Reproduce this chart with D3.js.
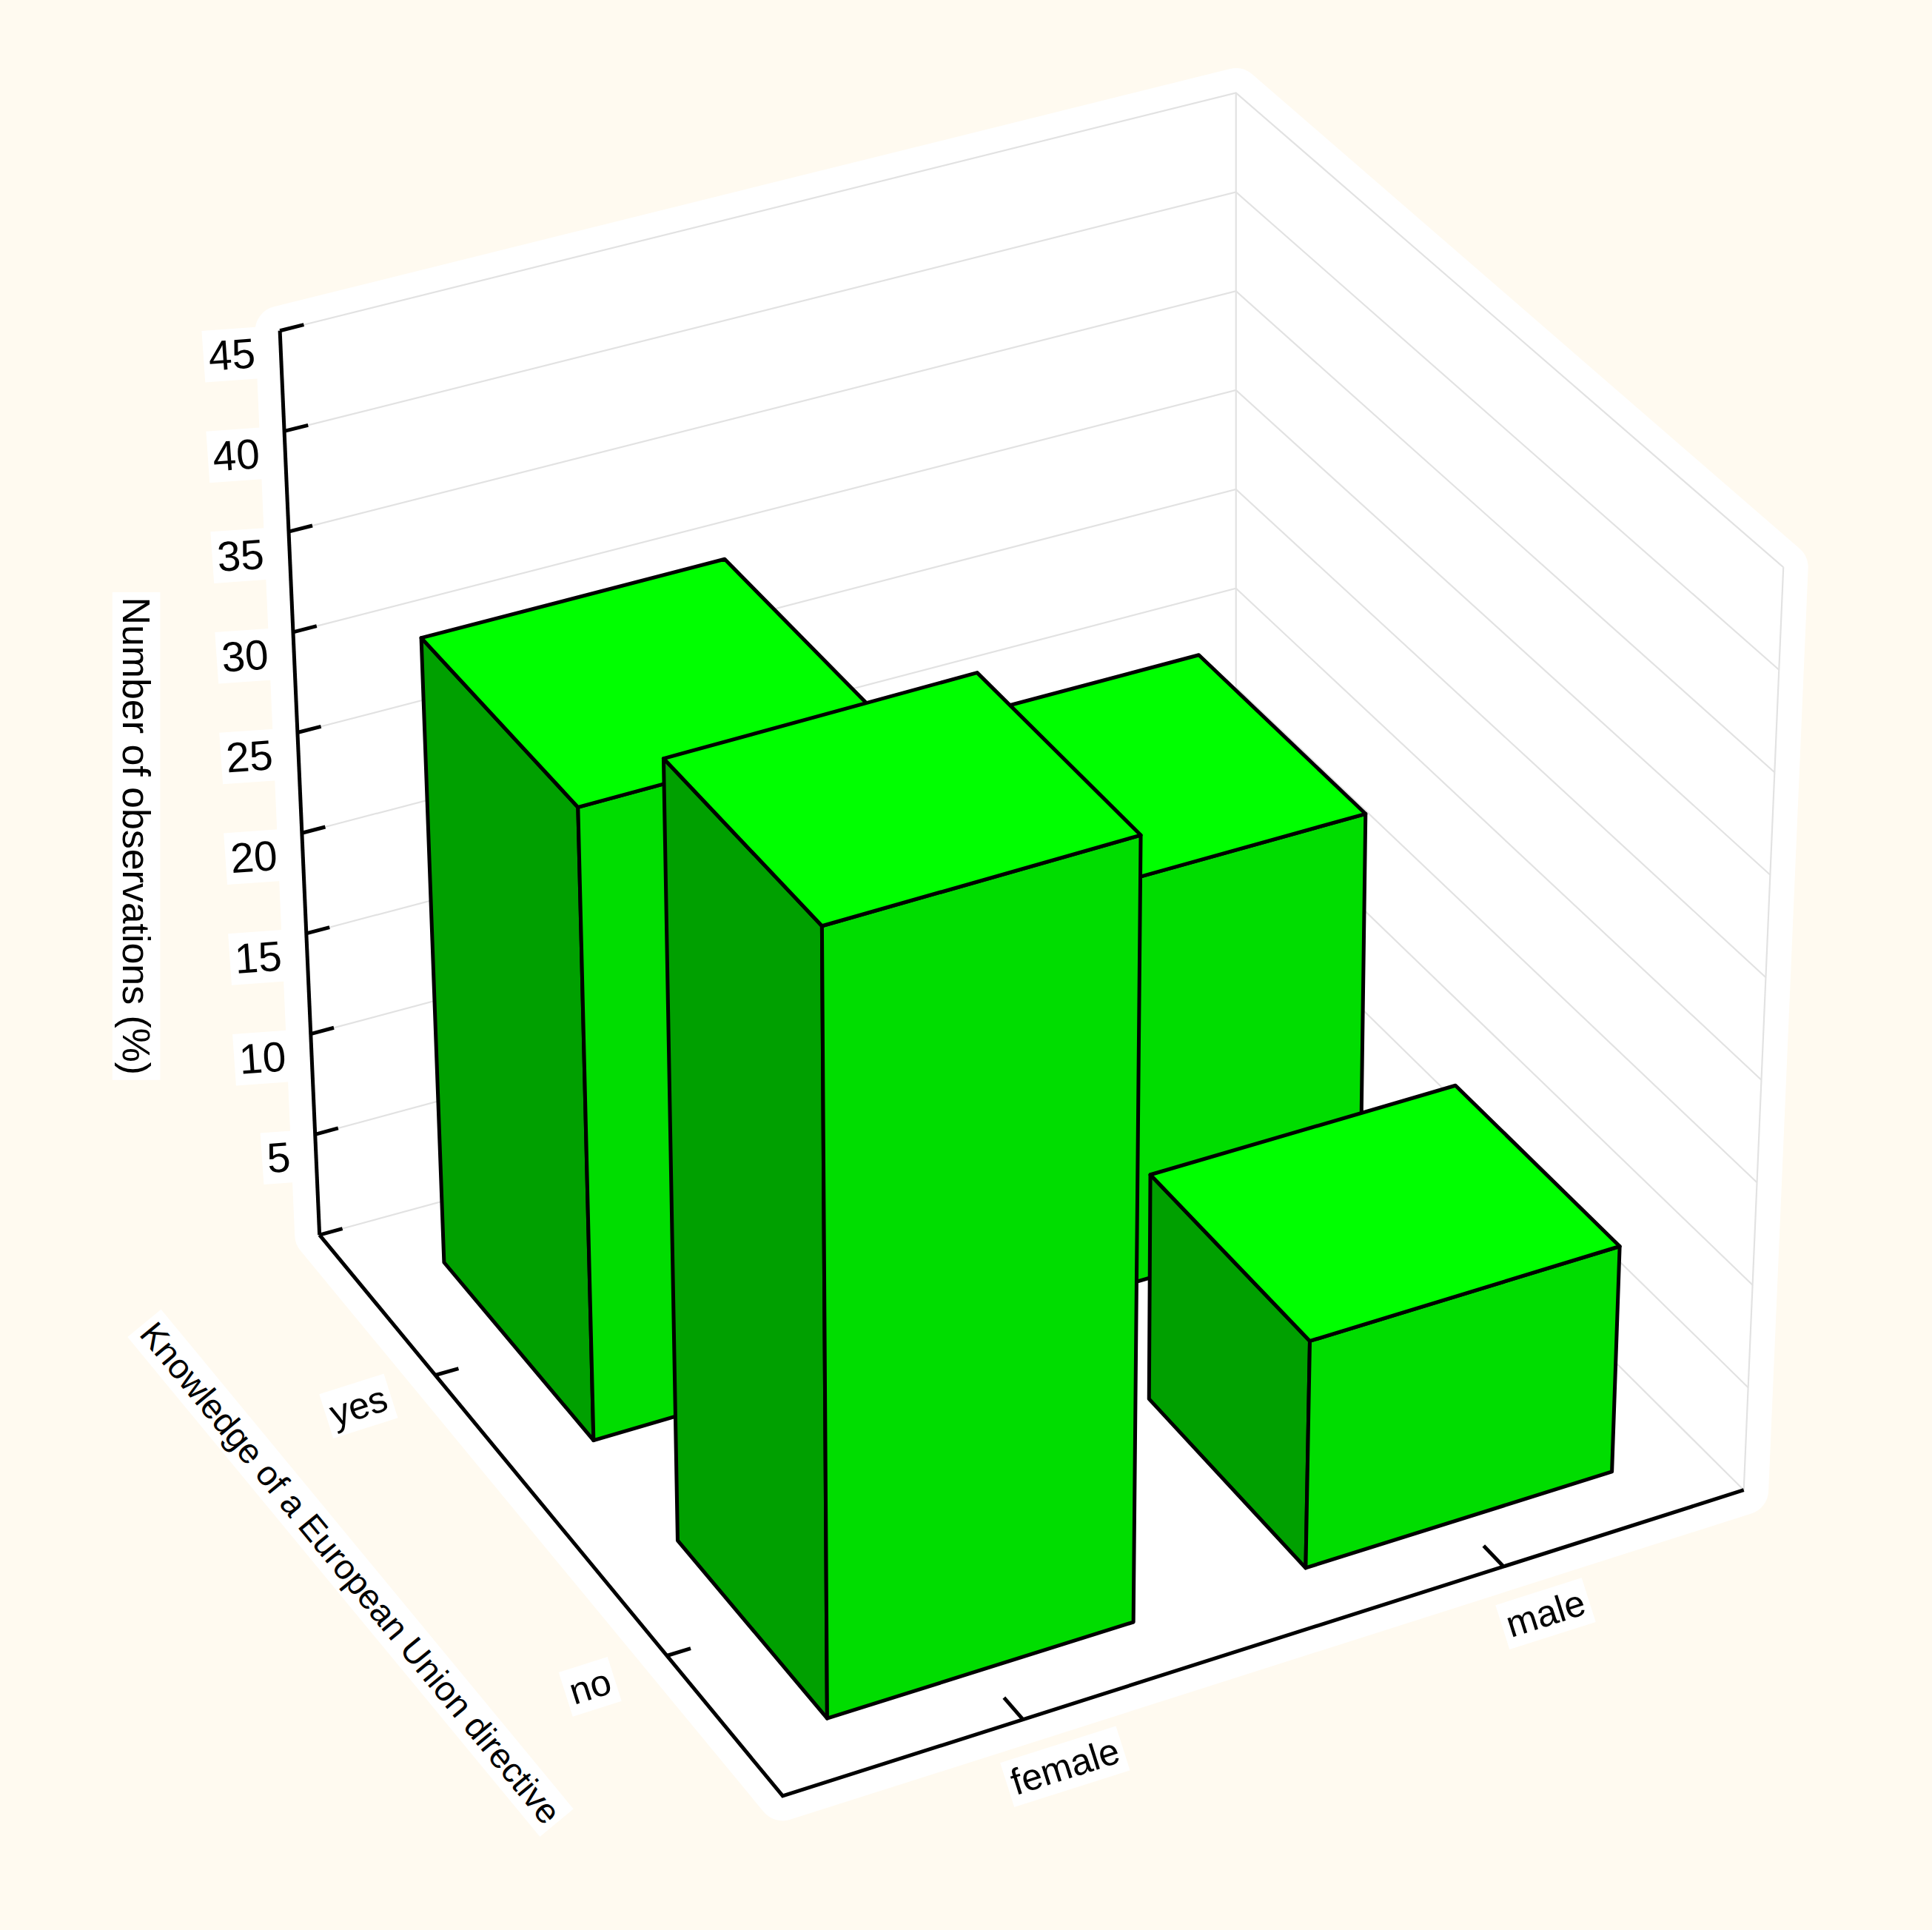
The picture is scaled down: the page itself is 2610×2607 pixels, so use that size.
<!DOCTYPE html>
<html><head><meta charset="utf-8">
<script src="https://cdn.jsdelivr.net/npm/d3@7"></script>
<style>body{margin:0;background:#fffaf0}</style></head>
<body><svg id="c" width="2610" height="2607"></svg>
<script>
const genders = ["female", "male"];
const knowledge = ["yes", "no"];
const valuesYes = [31, 20];
const valuesNo = [38, 11];
const zTicks = [5, 10, 15, 20, 25, 30, 35, 40, 45];
const gridVals = [0, 5, 10, 15, 20, 25, 30, 35, 40, 45];

const S = 2610 / 1560;
const svg = d3.select("#c");
svg.append("rect").attr("width", 2610).attr("height", 2607).attr("fill", "#fffaf0");
const g = svg.append("g").attr("transform", `scale(${S})`);

const uS = d3.scalePoint().domain(genders).range([0, 1]).padding(0.5);
const vS = d3.scalePoint().domain(knowledge).range([0, 1]).padding(0.5);
const zS = d3.scaleLinear().domain([0, 45]).range([0, 1]);

// box corners (display units)
const B = [258, 997], D = [998, 795], A = [632, 1450], C = [1408, 1203];
const Bt = [226, 267], Dt = [998, 75], At = [626, 688], Ct = [1440, 458];
const lerp = (p, q, t) => [p[0] + (q[0] - p[0]) * t, p[1] + (q[1] - p[1]) * t];
function bil(b, d, a, c, u, v) { return lerp(lerp(b, d, u), lerp(a, c, u), v); }
function P(u, v, z) {
  const t = zS(z);
  return lerp(bil(B, D, A, C, u, v), bil(Bt, Dt, At, Ct, u, v), t);
}
const line = pts => "M" + pts.map(p => p.join(",")).join("L");

// white hull
const hull = d3.polygonHull([P(0,0,0),P(1,0,0),P(0,1,0),P(1,1,0),P(0,0,45),P(1,0,45),P(0,1,45),P(1,1,45)]);
g.append("path").attr("d", line(hull) + "Z").attr("fill", "#fff").attr("stroke", "#fff").attr("stroke-width", 40).attr("stroke-linejoin", "round");

// grid
const grid = g.append("g").attr("fill", "none").attr("stroke", "#e2e2e2").attr("stroke-width", 1.3);
gridVals.forEach(z => {
  grid.append("path").attr("d", line([P(0, 0, z), P(1, 0, z), P(1, 1, z)]));
});
grid.append("path").attr("d", line([P(1, 0, 0), P(1, 0, 45)]));
grid.append("path").attr("d", line([P(1, 1, 0), P(1, 1, 45)]));

// axes
const ax = g.append("g").attr("stroke", "#000").attr("stroke-width", 3).attr("fill", "none");
ax.append("path").attr("d", line([P(0, 0, 0), P(0, 0, 45)]));
ax.append("path").attr("d", line([P(0, 0, 0), P(0, 1, 0), P(1, 1, 0)]));
ax.append("path").attr("d", line([P(0, 0, 0), P(0.025, 0, 0)]));
zTicks.forEach(z => ax.append("path").attr("d", line([P(0, 0, z), P(0.025, 0, z)])));
knowledge.forEach(k => ax.append("path").attr("d", line([P(0, vS(k), 0), P(0.025, vS(k), 0)])));
genders.forEach(k => ax.append("path").attr("d", line([P(uS(k), 1, 0), P(uS(k), 0.96, 0)])));

function label(x, y, txt, size, rot, anchor) {
  const gg = g.append("g").attr("transform", `translate(${x},${y}) rotate(${rot})`);
  const r = gg.append("rect").attr("fill", "#fff");
  const t = gg.append("text").text(txt).attr("font-family", "Liberation Sans, Arial, sans-serif")
    .attr("font-size", size).attr("text-anchor", anchor || "middle").attr("dominant-baseline", "central");
  const bb = t.node().getBBox();
  r.attr("x", bb.x - 4).attr("y", bb.y - 2).attr("width", bb.width + 8).attr("height", bb.height + 4);
}
zTicks.forEach(z => { const p = P(0, 0, z); label(p[0] - 20, p[1] + 18, String(z), 34, -4, "end"); });
const xr = Math.atan2(C[1] - A[1], C[0] - A[0]) * 180 / Math.PI;
const dr = Math.atan2(A[1] - B[1], A[0] - B[0]) * 180 / Math.PI;
knowledge.forEach(k => { const p = P(0, vS(k), 0); label(p[0] - 62, p[1] + 25, k, 30, xr, "middle"); });
genders.forEach(k => { const p = P(uS(k), 1, 0); label(p[0] + 34, p[1] + 38, k, 30, xr, "middle"); });
label(110, 675, "Number of observations (%)", 31, 90, "middle");
label(283, 1270, "Knowledge of a European Union directive", 28, dr, "middle");

// bars
const hw = 0.16;
const bars = [];
knowledge.forEach((k, j) => genders.forEach((gn, i) => {
  bars.push({ u: uS(gn), v: vS(k), val: (j === 0 ? valuesYes : valuesNo)[i] });
}));
bars.sort((a, b) => (a.v - a.u) - (b.v - b.u));
const bg = g.append("g").attr("stroke", "#000").attr("stroke-width", 3).attr("stroke-linejoin", "round");
bars.forEach(b => {
  const u0 = b.u - hw, u1 = b.u + hw, v0 = b.v - hw, v1 = b.v + hw, h = b.val;
  bg.append("path").attr("fill", "#00a000")
    .attr("d", line([P(u0, v0, 0), P(u0, v1, 0), P(u0, v1, h), P(u0, v0, h)]) + "Z");
  bg.append("path").attr("fill", "#00dd00")
    .attr("d", line([P(u0, v1, 0), P(u1, v1, 0), P(u1, v1, h), P(u0, v1, h)]) + "Z");
  bg.append("path").attr("fill", "#00ff00")
    .attr("d", line([P(u0, v0, h), P(u1, v0, h), P(u1, v1, h), P(u0, v1, h)]) + "Z");
});
</script></body></html>
